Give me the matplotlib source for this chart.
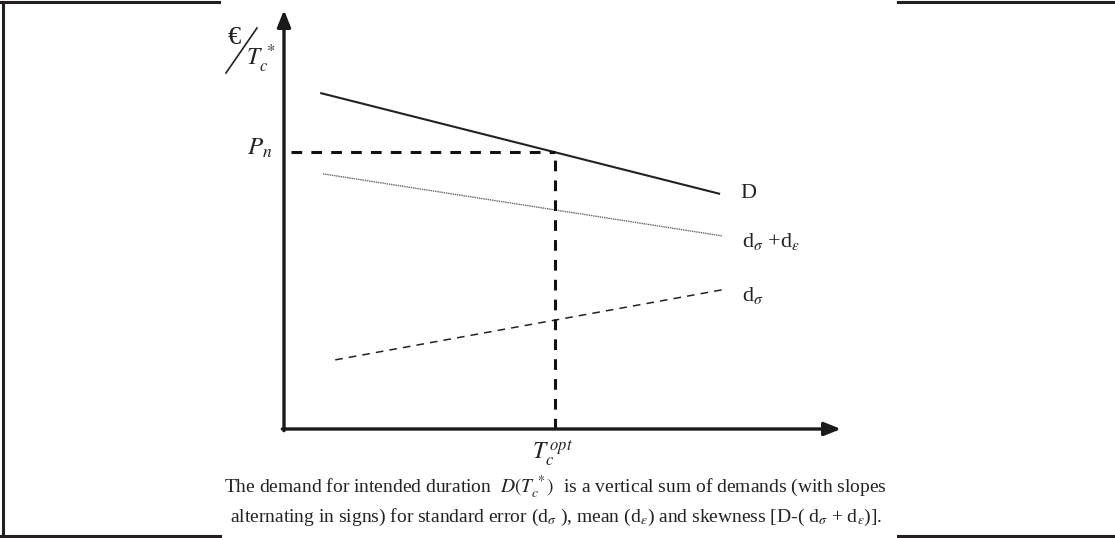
import matplotlib.pyplot as plt
from matplotlib.lines import Line2D

plt.rcParams['font.family'] = ['Liberation Serif', 'DejaVu Serif']
plt.rcParams['mathtext.fontset'] = 'stix'

# conceptual data (x: intended duration, y: price per unit), 0..100 scale
D_x = [6.5, 78.3]
D_y = [80.2, 56.1]
sum_x = [7.0, 78.6]       # d_sigma + d_eps
sum_y = [60.9, 46.1]
sig_x = [9.2, 78.6]       # d_sigma
sig_y = [16.5, 33.2]
P_n = 66.1
T_opt = 48.7
line_labels = ['D', r'd$_\sigma$ +d$_\varepsilon$', r'd$_\sigma$']
caption = [r'The demand for intended duration  $D(T_c^{\,*})$  is a vertical sum of demands (with slopes',
           r'alternating in signs) for standard error (d$_\sigma$ ), mean (d$_\varepsilon$) and skewness [D-( d$_\sigma$ + d$_\varepsilon$)].']

W, H = 1115, 538
fig = plt.figure(figsize=(W / 100, H / 100), dpi=100)

# axes box: x 284..841 px, y 429..10 px
ax = fig.add_axes([284 / W, 1 - 429 / H, 557 / W, 419 / H])
ax.set_xlim(0, 100)
ax.set_ylim(0, 100)
ax.axis('off')

# axes with arrows
arrow = dict(arrowstyle='-|>,head_length=1.0,head_width=0.4', color='#1a1a1a', lw=2.4,
             shrinkA=0, shrinkB=0)
ax.annotate('', xy=(100, 0), xytext=(-0.3, 0), arrowprops=arrow, annotation_clip=False)
ax.annotate('', xy=(0, 100), xytext=(0, -0.4), arrowprops=arrow, annotation_clip=False)

# demand lines
ax.plot(D_x, D_y, color='#222222', lw=1.5, solid_capstyle='butt')
ax.plot(sum_x, sum_y, color='#666666', lw=1.0, linestyle=(0, (1, 0.6)))
ax.plot(sig_x, sig_y, color='#222222', lw=1.1, linestyle=(0, (5, 4)))

# optimum guides
ax.plot([1.2, T_opt], [P_n, P_n], color='#111111', lw=2.2, linestyle=(0, (3.5, 3)))
ax.plot([T_opt, T_opt], [0, P_n], color='#111111', lw=2.2, linestyle=(0, (3.5, 3)))

# line labels
for (lx, ly), lab in zip([(D_x[1], D_y[1]), (sum_x[1], sum_y[1]), (sig_x[1], sig_y[1])], line_labels):
    ax.text(lx + 3.7, ly + 0.2 if lab == 'D' else ly - 1.3, lab, fontsize=16, ha='left', va='center',
            color='#222222')

ax.text(-2.0, P_n + 1.0, r'$P_n$', fontsize=18, ha='right', va='center', color='#222222')
ax.text(T_opt - 0.5, -2.3, r'$T_c^{\,opt}$', fontsize=17, ha='center', va='top', color='#222222')

# y-axis unit label: euro / T_c^*
fig.text(234 / W, 1 - 38 / H, '€', fontsize=19, ha='center', va='center', color='#222222')
fig.text(261 / W, 1 - 59 / H, r'$T_c^{\,*}$', fontsize=17, ha='center', va='center', color='#222222')
fig.add_artist(Line2D([226 / W, 257 / W], [1 - 73 / H, 1 - 28 / H], transform=fig.transFigure,
                      color='#222222', lw=1.2))

# caption
fig.text(555 / W, 1 - 487 / H, caption[0], fontsize=14, ha='center', va='center', color='#222222')
fig.text(556 / W, 1 - 517 / H, caption[1], fontsize=14, ha='center', va='center', color='#222222')

# page frame fragments
frame = dict(transform=fig.transFigure, color='#231f20', lw=2.2)
fig.add_artist(Line2D([0, 219 / W], [1 - 1.5 / H, 1 - 1.5 / H], **frame))
fig.add_artist(Line2D([0, 220 / W], [1 - 536 / H, 1 - 536 / H], **frame))
fig.add_artist(Line2D([2.5 / W, 2.5 / W], [1 - 1.5 / H, 1 - 536 / H], **frame))
fig.add_artist(Line2D([898 / W, 1], [1 - 1.5 / H, 1 - 1.5 / H], **frame))
fig.add_artist(Line2D([898 / W, 1], [1 - 536 / H, 1 - 536 / H], **frame))

fig.savefig('out.png', dpi=100)
